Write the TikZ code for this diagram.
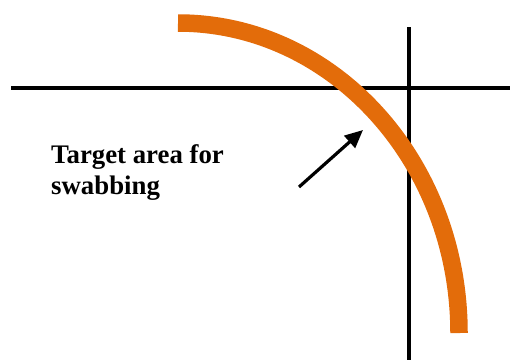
\documentclass[tikz,border=0pt]{standalone}
\usepackage{fontspec}
\setmainfont{Liberation Serif}
\usetikzlibrary{arrows.meta}
\definecolor{swaborange}{HTML}{E36C0A}
\begin{document}
\begin{tikzpicture}[x=1pt,y=1pt,
  axisline/.style={line width=3.2pt,black},
  swabarc/.style={line width=17.5pt,swaborange},
  pointer/.style={line width=3.2pt,-{Triangle[length=18pt,width=16pt]}},
  label/.style={font=\fontsize{26.8}{30.5}\selectfont\bfseries,align=left,anchor=north west,inner sep=0pt}]
\useasboundingbox (0,0) rectangle (510,360);
\coordinate (hl) at (11,272);
\coordinate (hr) at (510,272);
\coordinate (vt) at (409,333);
\coordinate (vb) at (409,0);
\draw[axisline] (hl) -- (hr);
\draw[axisline] (vt) -- (vb);
\coordinate (arcstart) at (178,337);
\draw[swabarc] (arcstart) arc[start angle=90,end angle=0,x radius=281,y radius=310];
\node[label] (txt) at (51,215.5) {Target area for\\swabbing};
\coordinate (arrowtail) at (299,173);
\coordinate (arrowtip) at (363,230);
\draw[pointer] (arrowtail) -- (arrowtip);
\end{tikzpicture}
\end{document}
